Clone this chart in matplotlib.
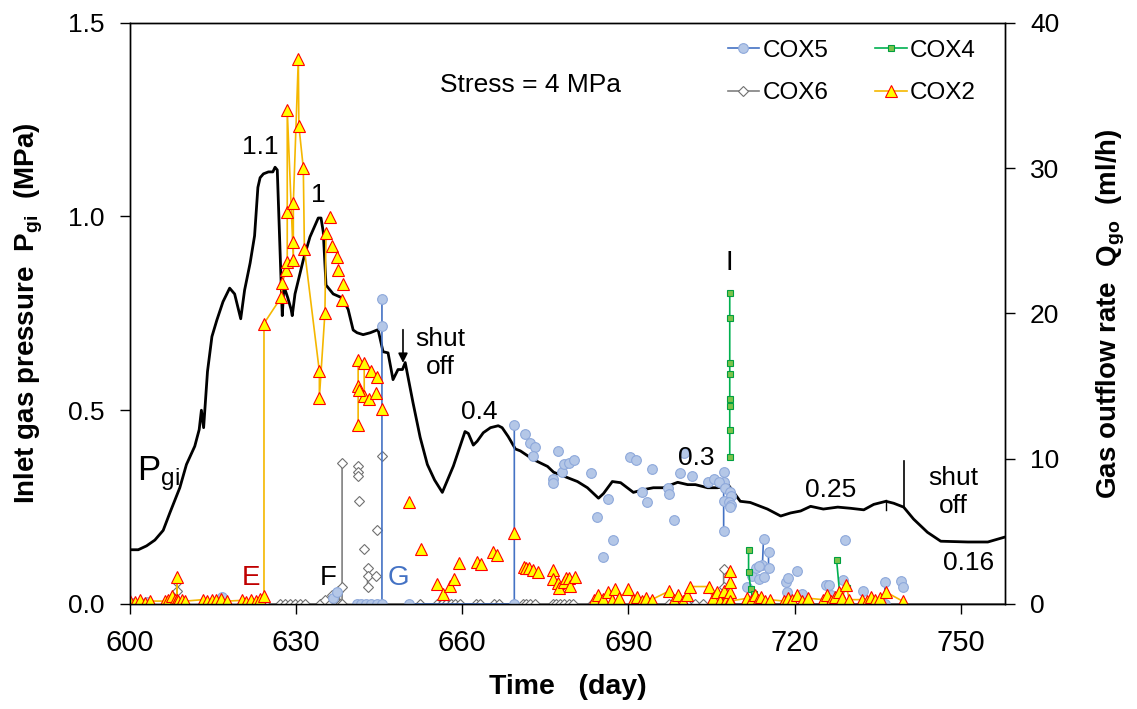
import numpy as np
import matplotlib
matplotlib.use("Agg")
import matplotlib.pyplot as plt

plt.rcParams["font.family"] = ["Liberation Sans", "DejaVu Sans"]
plt.rcParams["mathtext.fontset"] = "custom"
plt.rcParams["mathtext.rm"] = "Liberation Sans"
plt.rcParams["mathtext.it"] = "Liberation Sans:italic"
plt.rcParams["mathtext.bf"] = "Liberation Sans:bold"

# inlet gas pressure Pgi (MPa), left axis
p_day = [600, 601.5, 603.0, 604.5, 606.0, 607.2, 609.0, 610.2, 611.7, 612.5, 612.9, 613.3, 614.0, 614.8,
         615.7, 616.8, 618.0, 618.9, 620.0, 620.7, 621.7, 622.5, 623.1, 623.5, 624.1, 625.0, 625.8, 626.2,
         626.6, 627.5, 627.8, 628.5, 629.1, 629.3, 629.8, 631.3, 632.5, 634.0, 634.5, 634.9, 635.4, 636.7,
         638.3, 639.4, 640.3, 641.0, 642.1, 643.4, 644.8, 645.7, 646.6, 647.5, 648.4, 649.2, 649.7, 651.1,
         652.4, 653.7, 655.0, 656.4, 658.4, 660.5, 661.1, 662.0, 662.7, 663.8, 665.1, 666.5, 667.2, 668.3,
         669.6, 670.5, 672.8, 675.4, 676.5, 678.3, 680.8, 682.6, 684.6, 685.5, 687.1, 688.6, 690.9, 692.7,
         694.5, 696.3, 698.9, 700.7, 702.1, 704.3, 706.1, 708.1, 710.2, 712.0, 715.1, 717.5, 719.3, 721.1,
         722.9, 725.2, 727.8, 730.1, 732.5, 734.3, 736.5, 737.9, 739.7, 741.5, 744.0, 746.4, 751.3, 754.9,
         757.8]
p_val = [0.14, 0.14, 0.15, 0.165, 0.19, 0.235, 0.30, 0.36, 0.407, 0.45, 0.50, 0.455, 0.60, 0.69,
         0.733, 0.78, 0.815, 0.80, 0.736, 0.81, 0.88, 0.95, 1.075, 1.10, 1.11, 1.115, 1.115, 1.127,
         1.12, 0.744, 0.82, 0.79, 0.76, 0.744, 0.80, 0.888, 0.947, 0.996, 0.996, 0.96, 0.823, 0.80,
         0.79, 0.76, 0.707, 0.70, 0.695, 0.70, 0.708, 0.651, 0.648, 0.579, 0.605, 0.605, 0.623, 0.52,
         0.43, 0.36, 0.32, 0.288, 0.356, 0.445, 0.44, 0.41, 0.42, 0.442, 0.455, 0.46, 0.455, 0.432,
         0.40, 0.395, 0.373, 0.355, 0.34, 0.33, 0.316, 0.30, 0.273, 0.285, 0.316, 0.313, 0.288, 0.295,
         0.30, 0.30, 0.314, 0.308, 0.308, 0.30, 0.30, 0.306, 0.265, 0.262, 0.245, 0.227, 0.235, 0.24,
         0.252, 0.245, 0.25, 0.247, 0.243, 0.257, 0.265, 0.26, 0.25, 0.219, 0.185, 0.162, 0.16, 0.16,
         0.172]

# gas outflow rate Qgo (ml/h), right axis; each run is a connected stretch of readings
cox5_runs = [
    [(600.5, 0.1), (603.0, 0.15)],
    [(616.6, 0.45)],
    [(636.6, 0.4), (637.4, 0.8)],
    [(641.0, 0), (641.8, 0), (642.6, 0), (643.6, 0), (644.6, 0), (645.5, 0), (645.5, 19.1), (645.5, 21.0)],
    [(650.3, 0), (669.4, 0), (669.4, 12.3)],
    [(707.2, 9.1), (707.2, 8.4), (707.2, 5.0)],
    [(714.4, 4.5), (714.2, 2.7)],
    [(715.3, 3.6), (715.3, 2.5)],
    [(736.3, 1.5), (736.3, 0)],
]
cox5_points = [(671.4, 11.7), (672.3, 11.1), (673.2, 10.8), (672.7, 10.2), (677.2, 10.5), (676.3, 8.6),
               (676.3, 8.3), (678.1, 9.1), (678.3, 9.6), (679.2, 9.7), (680.2, 9.9), (683.3, 9.0),
               (686.4, 7.2), (684.4, 6.0), (687.3, 4.4), (685.5, 3.2), (690.2, 10.1), (691.3, 9.9),
               (692.4, 7.7), (693.3, 7.0), (694.3, 9.3), (697.2, 8.0), (697.4, 7.6), (698.3, 5.8),
               (700.1, 10.4), (699.4, 9.0), (701.4, 8.8), (704.3, 8.4), (705.4, 8.6), (706.3, 8.4),
               (707.4, 8.0), (708.3, 7.7), (708.5, 7.4), (707.2, 7.1), (708.1, 7.0), (708.5, 6.8),
               (708.3, 6.7), (711.5, 1.2), (712.4, 1.9), (713.0, 2.5), (713.5, 2.6), (713.5, 1.7),
               (714.4, 1.85), (718.4, 1.5), (718.6, 0.8), (718.9, 1.8), (720.5, 2.3), (721.4, 0.7),
               (725.6, 1.3), (726.2, 1.3), (726.5, 0.6), (728.7, 1.65), (729.2, 4.4), (732.3, 0.9),
               (739.3, 1.6), (739.5, 1.2)]

cox4_runs = [
    [(708.3, 10.1), (708.3, 12.0), (708.3, 13.6), (708.3, 14.1), (708.3, 15.8), (708.3, 16.6),
     (708.3, 19.7), (708.3, 21.4)],
    [(711.7, 3.7), (711.7, 2.2), (712.1, 1.0), (712.6, 0.7), (712.8, 0.5)],
    [(727.6, 3.0), (728.2, 0.5), (729.4, 1.1)],
]

cox6_runs = [
    [(608.5, 0.9), (608.5, 1.5)],
    [(624.4, 0), (627.1, 0), (628.0, 0), (628.9, 0), (629.8, 0), (630.7, 0), (631.6, 0), (634.3, 0),
     (635.2, 0.3), (636.1, 0), (636.5, 0.6), (637.0, 0.2), (637.6, 0.9), (638.0, 0), (638.3, 0),
     (638.3, 1.2), (638.3, 9.7)],
    [(642.9, 2.5), (642.9, 1.9), (642.9, 1.2)],
    [(645.5, 0), (652.4, 0), (655.5, 0), (656.3, 0), (657.1, 0), (657.9, 0), (658.7, 0), (659.6, 0),
     (662.4, 0), (663.2, 0), (665.8, 0), (666.6, 0), (669.4, 0), (671.0, 0), (671.6, 0), (672.3, 0),
     (673.2, 0), (676.3, 0), (677.0, 0), (677.7, 0), (678.4, 0), (679.2, 0), (680.0, 0), (683.5, 0),
     (684.4, 0), (691.0, 0), (692.0, 0), (693.0, 0), (694.0, 0), (697.3, 0), (698.2, 0), (699.3, 0),
     (700.5, 0), (702.0, 0), (703.5, 0), (705.2, 0), (707.2, 0), (707.2, 1.2), (707.2, 2.4)],
]
cox6_points = [(641.2, 9.5), (641.2, 9.1), (641.2, 8.8), (641.4, 7.1), (644.6, 5.1), (642.3, 3.8),
               (644.4, 1.9), (645.5, 10.2)]
cox6_tail_day = [707.2, 758.0]
cox6_tail_q = [0, 0]

cox2_runs = [
    [(600.0, 0.2), (600.9, 0.15), (601.8, 0.25), (602.7, 0.1), (603.6, 0.2), (606.3, 0.2), (606.9, 0.25),
     (607.6, 0.55), (608.1, 0.3), (608.5, 0.3), (608.5, 1.85), (608.5, 0.3), (608.7, 0.2), (609.4, 0.25),
     (610.0, 0.2), (613.2, 0.3), (614.0, 0.2), (614.8, 0.3), (615.6, 0.25), (616.4, 0.35), (617.5, 0.2),
     (620.2, 0.25), (621.0, 0.15), (621.9, 0.3), (622.7, 0.2), (623.5, 0.35), (624.2, 0.55), (624.2, 19.3),
     (627.3, 21.1), (627.5, 22.1), (628.2, 23.0), (628.4, 23.5), (628.4, 27.0), (628.4, 34.0), (629.5, 23.7),
     (629.5, 24.9), (629.5, 27.6), (630.4, 37.5), (630.5, 32.9), (631.3, 30.0), (631.5, 24.4), (634.2, 16.0),
     (634.2, 14.2), (635.2, 20.0), (635.4, 25.5)],
    [(641.2, 16.8), (641.2, 15.0), (641.2, 12.3)],
    [(642.3, 16.6), (642.3, 14.3)],
    [(683.8, 0.25), (684.6, 0.6), (685.5, 0.35), (686.3, 0.8), (687.0, 0.3), (687.6, 1.0), (688.3, 0.4),
     (690.0, 1.0), (690.8, 0.3), (691.6, 0.5), (692.5, 0.2), (693.2, 0.4), (694.2, 0.3), (697.4, 0.9),
     (698.2, 0.3), (699.0, 0.6), (699.8, 0.2), (700.5, 0.6), (701.2, 1.2), (704.5, 1.2), (705.2, 0.4),
     (706.0, 0.8), (706.5, 0.2), (707.3, 0.9), (707.8, 0.4), (708.3, 0.3), (708.3, 0.8), (708.3, 1.5),
     (708.3, 2.3), (708.3, 0.2), (711.5, 0.4), (712.1, 0.2), (712.8, 0.6), (713.4, 0.3), (714.0, 0.5),
     (714.6, 0.2), (715.5, 0.3), (718.1, 0.2), (718.8, 0.4), (719.6, 0.3), (720.5, 0.6), (721.3, 0.2),
     (722.4, 0.4), (725.1, 0.3), (725.8, 0.6), (726.6, 0.2), (727.3, 0.5), (728.0, 0.8), (728.6, 0.4),
     (729.3, 1.3), (729.9, 0.3), (732.2, 0.3), (733.0, 0.2), (733.8, 0.5), (734.6, 0.3), (735.4, 0.4),
     (736.6, 0.8), (739.5, 0.2)],
]
cox2_points = [(636.1, 26.6), (636.5, 24.6), (637.4, 23.9), (637.5, 23.0), (638.5, 22.0), (638.3, 20.9),
               (643.6, 16.0), (644.6, 15.6), (641.4, 14.7), (643.2, 14.1), (644.5, 14.5), (645.5, 13.4),
               (650.4, 7.0), (652.6, 3.75), (655.5, 1.4), (656.6, 0.7), (657.7, 1.25), (658.6, 1.75),
               (659.5, 2.8), (662.7, 2.9), (663.3, 2.75), (665.6, 3.6), (666.3, 3.4), (669.4, 4.9),
               (671.2, 2.55), (671.6, 2.5), (672.0, 2.45), (672.7, 2.35), (673.6, 2.2),
               (676.3, 2.35), (676.3, 1.7), (677.2, 1.45), (677.4, 1.1), (678.3, 1.5), (678.7, 1.8),
               (679.3, 1.8), (679.5, 1.25), (680.4, 1.85)]


def join_runs(runs, points=()):
    days, vals = [], []
    for run in list(runs) + [[p] for p in points]:
        for d, q in run:
            days.append(d)
            vals.append(q)
        days.append(np.nan)
        vals.append(np.nan)
    return np.array(days), np.array(vals)


figure = plt.figure(figsize=(11.37, 7.09), dpi=100)
plot = figure.add_axes([0.1143, 0.1481, 0.7696, 0.8199])
plot2 = plot.twinx()

plot.plot(p_day, p_val, color="black", linewidth=2.0, zorder=3)
plot.set_xlim(600, 758)
plot.set_ylim(0, 1.5)
plot.set_xticks([600, 630, 660, 690, 720, 750])
plot.set_yticks([0, 0.5, 1.0, 1.5])
plot.set_yticklabels(["0.0", "0.5", "1.0", "1.5"])
plot2.set_ylim(0, 40)
plot2.set_yticks([0, 10, 20, 30, 40])

d6, q6 = join_runs(cox6_runs, cox6_points)
d5, q5 = join_runs(cox5_runs, cox5_points)
d4, q4 = join_runs(cox4_runs)
d2, q2 = join_runs(cox2_runs, cox2_points)

plot2.plot(cox6_tail_day, cox6_tail_q, color="#606060", linewidth=1.2)
h6, = plot2.plot(d6, q6, color="#808080", linewidth=1.2, marker="D", markersize=5.5,
                 markerfacecolor="white", markeredgecolor="#707070", markeredgewidth=0.8, label="COX6")
h5, = plot2.plot(d5, q5, color="#4472C4", linewidth=1.2, marker="o", markersize=7,
                 markerfacecolor="#B4C7E7", markeredgecolor="#8EA9DB", markeredgewidth=0.8, label="COX5")
h4, = plot2.plot(d4, q4, color="#00B050", linewidth=1.2, marker="s", markersize=5,
                 markerfacecolor="#7DC24B", markeredgecolor="#00A040", markeredgewidth=0.8, label="COX4")
h2, = plot2.plot(d2, q2, color="#F5B700", linewidth=1.2, marker="^", markersize=8.5,
                 markerfacecolor="#FFFF00", markeredgecolor="#FF0000", markeredgewidth=0.8, label="COX2")

for ax in (plot, plot2):
    ax.tick_params(axis="both", which="major", direction="out", length=7, width=1, pad=11)
    for axis in ["top", "bottom", "left", "right"]:
        ax.spines[axis].set_linewidth(1)
plot.tick_params(axis="x", labelsize=21)
plot.tick_params(axis="y", labelsize=19)
plot2.tick_params(axis="y", labelsize=19)

plot.set_xlabel("Time   (day)", fontsize=20.5, fontweight="bold")
plot.xaxis.set_label_coords(0.5, -0.12)
plot.set_ylabel(r"Inlet gas pressure  $\mathbf{P}_{\mathbf{gi}}$  (MPa)", fontsize=20, fontweight="bold")
plot.yaxis.set_label_coords(-0.097, 0.5)
plot2.set_ylabel(r"Gas outflow rate  $\mathbf{Q}_{\mathbf{go}}$  (ml/h)", fontsize=20, fontweight="bold")
plot2.yaxis.set_label_coords(1.103, 0.5)

figure.legend([h5, h6, h4, h2], ["COX5", "COX6", "COX4", "COX2"], ncol=2, frameon=False,
              loc="upper left", bbox_to_anchor=(0.64, 0.944), fontsize=17.5, handlelength=1.3,
              handletextpad=0.15, columnspacing=1.9, labelspacing=0.85, borderpad=0, borderaxespad=0)

tc = plot.transData
plot2.text(672.3, 1.34, "Stress = 4 MPa", transform=tc, fontsize=19, ha="center", va="center")
plot2.text(623.5, 1.179, "1.1", transform=tc, fontsize=19, ha="center", va="center")
plot2.text(634.0, 1.055, "1", transform=tc, fontsize=19, ha="center", va="center")
plot2.text(656.0, 0.648, "shut\noff", transform=tc, fontsize=19, ha="center", va="center")
plot2.annotate("", xy=(649.3, 0.615), xytext=(649.3, 0.715), xycoords=tc, textcoords=tc,
               arrowprops=dict(arrowstyle="-|>", color="black", lw=1.2, mutation_scale=14))
plot2.text(663.1, 0.495, "0.4", transform=tc, fontsize=19, ha="center", va="center")
plot2.text(702.3, 0.377, "0.3", transform=tc, fontsize=19, ha="center", va="center")
plot2.text(726.5, 0.294, "0.25", transform=tc, fontsize=19, ha="center", va="center")
plot2.text(748.7, 0.289, "shut\noff", transform=tc, fontsize=19, ha="center", va="center")
plot2.text(751.5, 0.106, "0.16", transform=tc, fontsize=19, ha="center", va="center")
plot2.text(601.3, 0.32, r"P$_{\mathregular{gi}}$", transform=tc, fontsize=25, ha="left", va="baseline")
plot.plot([739.7, 739.7], [0.25, 0.37], color="black", linewidth=1.2)
plot.plot([736.6, 736.6], [0.243, 0.268], color="black", linewidth=1.0)
plot2.text(621.9, 0.067, "E", transform=tc, fontsize=20, ha="center", va="center", color="#C00000")
plot2.text(635.8, 0.067, "F", transform=tc, fontsize=20, ha="center", va="center", color="black")
plot2.text(648.4, 0.067, "G", transform=tc, fontsize=20, ha="center", va="center", color="#4472C4")
plot2.text(708.3, 0.88, "I", transform=tc, fontsize=20, ha="center", va="center", color="black")

figure.savefig("out.png", dpi=100)
plt.close(figure)
